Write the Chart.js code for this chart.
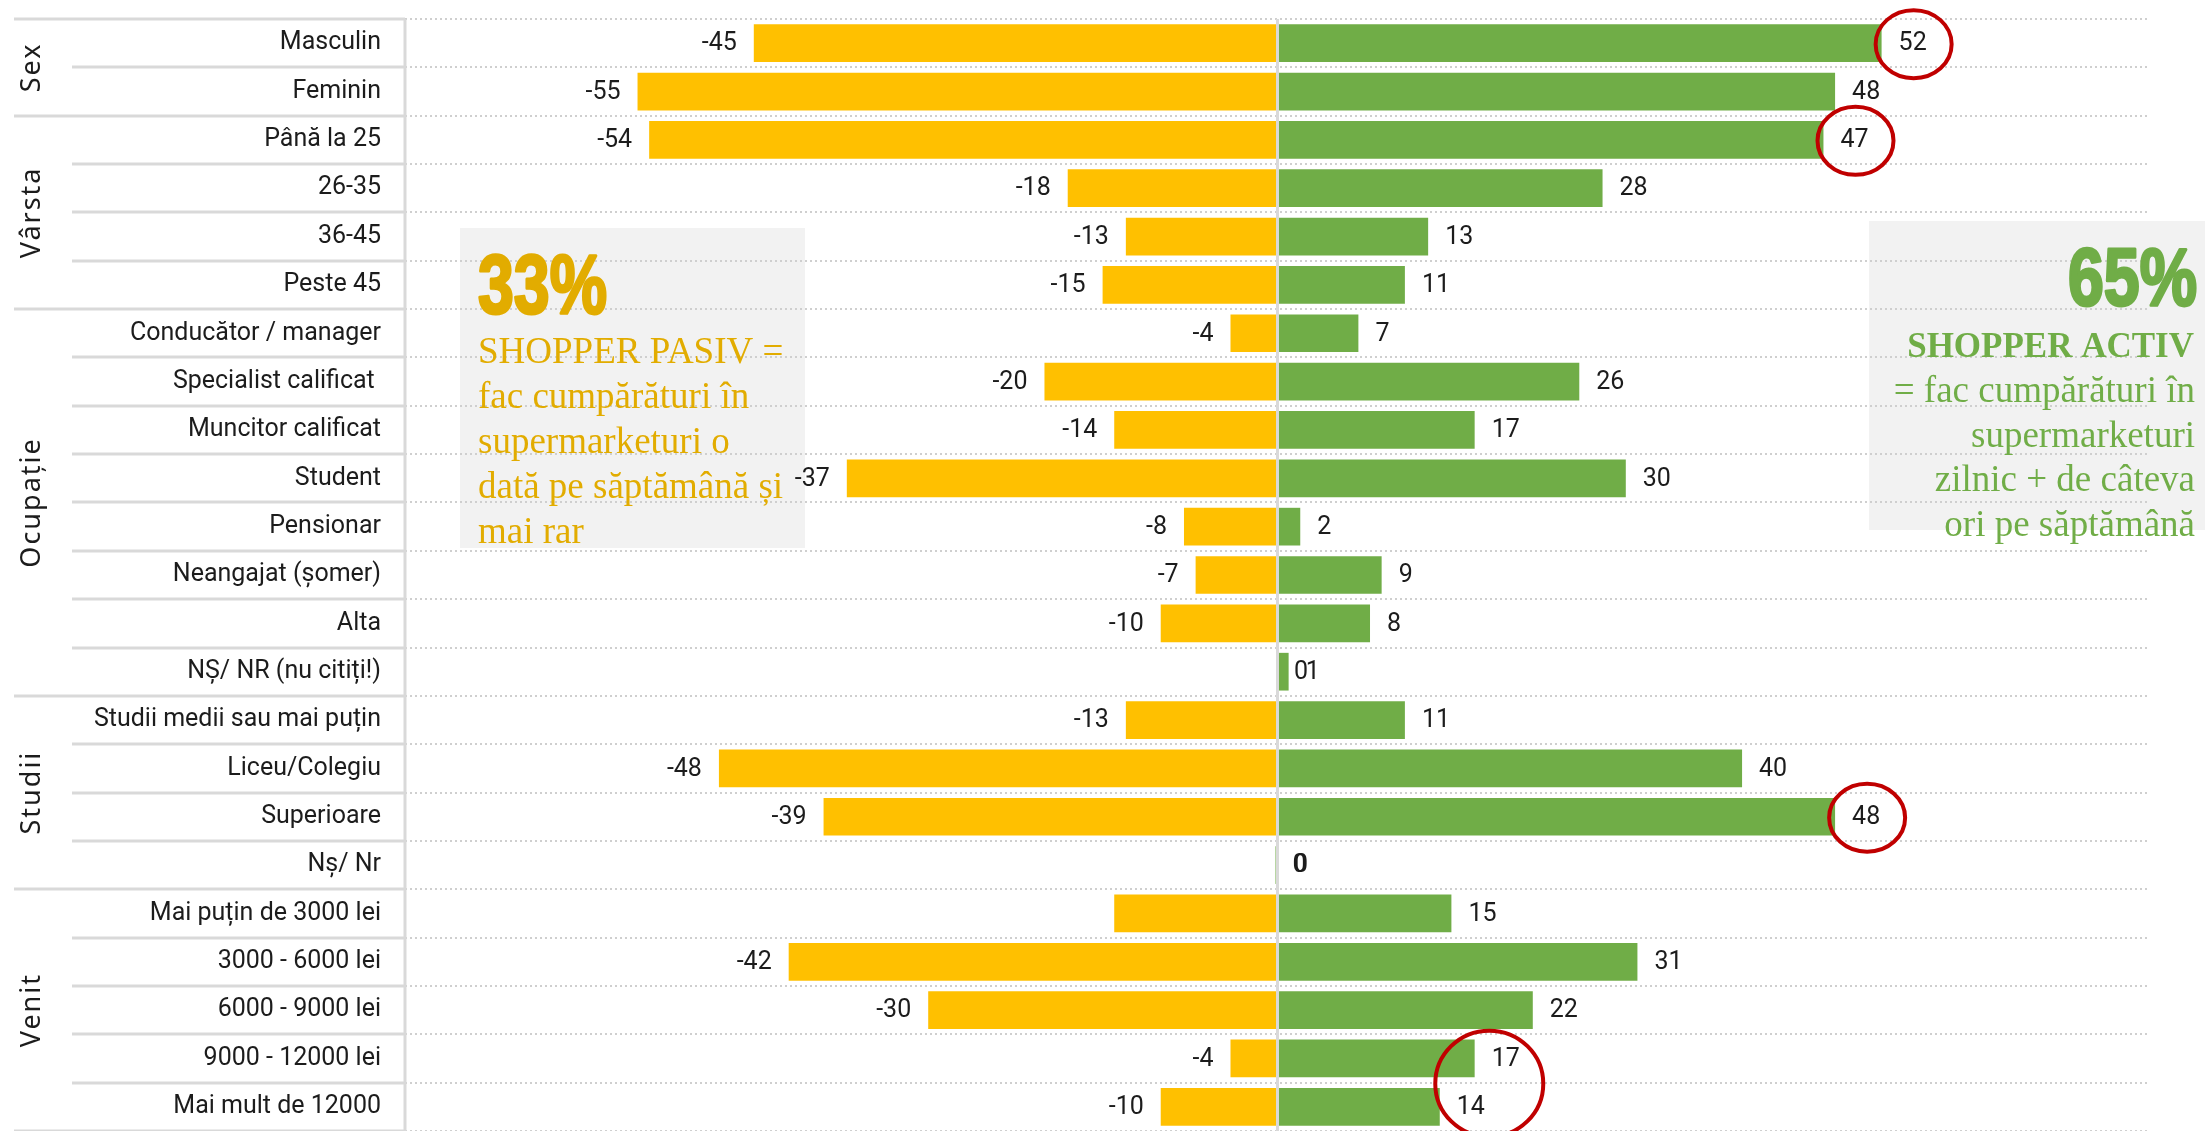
<!DOCTYPE html>
<html lang="ro">
<head>
<meta charset="utf-8">
<title>Shopper activ / pasiv</title>
<script src="https://cdn.jsdelivr.net/npm/chart.js@4.4.1/dist/chart.umd.min.js"></script>
<style>
  html, body { margin: 0; padding: 0; background: #ffffff; }
  #wrap { width: 2205px; height: 1131px; position: relative; overflow: hidden; }
</style>
</head>
<body>
<div id="wrap"><canvas id="c" width="2205" height="1131"></canvas></div>
<script>
// ---- data ----
const categories = [
  'Masculin', 'Feminin',
  'Până la 25', '26-35', '36-45', 'Peste 45',
  'Conducător / manager', 'Specialist calificat ', 'Muncitor calificat', 'Student',
  'Pensionar', 'Neangajat (șomer)', 'Alta', 'NȘ/ NR (nu citiți!)',
  'Studii medii sau mai puțin', 'Liceu/Colegiu', 'Superioare', 'Nș/ Nr',
  'Mai puțin de 3000 lei', '3000 - 6000 lei', '6000 - 9000 lei', '9000 - 12000 lei', 'Mai mult de 12000'
];
const groups = ['Sex', 'Vârsta', 'Ocupație', 'Studii', 'Venit'];
const groupSizes = [2, 4, 8, 4, 5];

// shoppers who buy once a week or less (drawn to the left)
const pasiv = [-45, -55, -54, -18, -13, -15, -4, -20, -14, -37, -8, -7, -10, 0, -13, -48, -39, 0, -14, -42, -30, -4, -10];
// shoppers who buy daily or several times a week (drawn to the right)
const activ = [52, 48, 47, 28, 13, 11, 7, 26, 17, 30, 2, 9, 8, 1, 11, 40, 48, 0, 15, 31, 22, 17, 14];

const pasivUnlabeled = [18];            // rows whose left value is shown without a number
const circled = [[0], [2], [16], [21, 22]]; // right-hand values ringed in red

const pasivShare = '33%';
const pasivText = ['SHOPPER PASIV =', 'fac cumpărături în', 'supermarketuri o', 'dată pe săptămână și', 'mai rar'];
const activShare = '65%';
const activTitle = 'SHOPPER ACTIV';
const activText = ['= fac cumpărături în', 'supermarketuri', 'zilnic + de câteva', 'ori pe săptămână'];

const xMin = -75, xMax = 75;

// ---- styling ----
const SANS = 'Roboto, "Liberation Sans", sans-serif';
const SERIF = '"Liberation Serif", "DejaVu Serif", serif';
const YELLOW = '#FFC000';
const GREEN = '#70AD47';
const GOLD_TEXT = '#E2AC00';
const TEXT = '#1c1c1c';
const RULE = '#d9d9d9';
const LABEL_GAP = 17;
const VALUE_FONT = '25px ' + SANS;

function labelGeom(chart, dsIndex, i) {
  const el = chart.getDatasetMeta(dsIndex).data[i];
  const v = chart.data.datasets[dsIndex].data[i];
  const ctx = chart.ctx;
  ctx.font = VALUE_FONT;
  const text = String(v);
  const w = ctx.measureText(text).width;
  const x = v < 0 ? el.x - LABEL_GAP - w : el.x + LABEL_GAP;
  return { x, y: el.y, w, text };
}

function drawCondensed(ctx, text, x, baseline, align, height, width, color) {
  const size = height / 0.716;
  ctx.save();
  ctx.font = 'bold ' + size + 'px "Liberation Sans", Arial, sans-serif';
  const w0 = ctx.measureText(text).width;
  const sx = width / w0;
  ctx.translate(x, baseline);
  ctx.scale(sx, 1);
  ctx.textAlign = align;
  ctx.textBaseline = 'alphabetic';
  ctx.fillStyle = color;
  ctx.strokeStyle = color;
  ctx.lineWidth = 3;
  ctx.lineJoin = 'round';
  ctx.fillText(text, 0, 0);
  ctx.strokeText(text, 0, 0);
  ctx.restore();
}

const panelPlugin = {
  id: 'panel',
  beforeDraw(chart) {
    const ctx = chart.ctx;
    ctx.save();
    ctx.fillStyle = '#ffffff';
    ctx.fillRect(0, 0, chart.width, chart.height);
    // note boxes behind the grid
    ctx.fillStyle = '#f2f2f2';
    ctx.fillRect(460, 228, 345, 320);
    ctx.fillRect(1869, 221, 336, 309);
    ctx.restore();
  },
  afterDatasetsDraw(chart) {
    const ctx = chart.ctx;
    const area = chart.chartArea;
    const xs = chart.scales.x;
    const ys = chart.scales.y;
    ctx.save();
    // zero line and category axis line
    ctx.strokeStyle = RULE;
    ctx.lineWidth = 3;
    ctx.beginPath();
    const x0 = Math.round(xs.getPixelForValue(0)) + 0.5;
    ctx.moveTo(x0, area.top); ctx.lineTo(x0, area.bottom);
    ctx.moveTo(area.left, area.top); ctx.lineTo(area.left, area.bottom);
    ctx.stroke();

    // row rules in the label column, longer ones between groups
    const groupStarts = [0];
    groupSizes.reduce((acc, n) => { groupStarts.push(acc + n); return acc + n; }, 0);
    ctx.beginPath();
    for (let i = 0; i <= categories.length; i++) {
      const y = Math.round(ys.getPixelForValue(i - 0.5));
      const start = groupStarts.includes(i) ? 14 : 72;
      ctx.moveTo(start, y); ctx.lineTo(area.left, y);
    }
    ctx.stroke();

    // group names, rotated
    ctx.fillStyle = TEXT;
    ctx.font = '27px "Noto Sans", "Open Sans", sans-serif';
    ctx.textAlign = 'center';
    ctx.textBaseline = 'middle';
    if ('letterSpacing' in ctx) ctx.letterSpacing = '2px';
    groups.forEach((g, k) => {
      const a = ys.getPixelForValue(groupStarts[k] - 0.5);
      const b = ys.getPixelForValue(groupStarts[k + 1] - 0.5);
      ctx.save();
      ctx.translate(32, (a + b) / 2);
      ctx.rotate(-Math.PI / 2);
      ctx.fillText(g, 0, 0);
      ctx.restore();
    });
    if ('letterSpacing' in ctx) ctx.letterSpacing = '0px';

    // value labels outside the bar ends
    ctx.font = VALUE_FONT;
    ctx.textAlign = 'left';
    ctx.textBaseline = 'middle';
    ctx.fillStyle = TEXT;
    [0, 1].forEach(ds => {
      chart.data.datasets[ds].data.forEach((v, i) => {
        if (ds === 0 && pasivUnlabeled.includes(i)) return;
        const g = labelGeom(chart, ds, i);
        ctx.fillText(g.text, g.x, g.y + 1);
      });
    });
    ctx.restore();
  },
  afterDraw(chart) {
    const ctx = chart.ctx;
    ctx.save();
    // passive shopper note
    drawCondensed(ctx, pasivShare, 478, 313, 'left', 60, 129, GOLD_TEXT);
    ctx.font = '37px ' + SERIF;
    ctx.fillStyle = GOLD_TEXT;
    ctx.textAlign = 'left';
    ctx.textBaseline = 'alphabetic';
    pasivText.forEach((t, k) => ctx.fillText(t, 478, 363 + k * 45));

    // active shopper note
    drawCondensed(ctx, activShare, 2197, 305, 'right', 58, 129, GREEN);
    ctx.fillStyle = GREEN;
    ctx.textAlign = 'right';
    ctx.font = 'bold 35px ' + SERIF;
    ctx.fillText(activTitle, 2194, 357);
    ctx.font = '37px ' + SERIF;
    activText.forEach((t, k) => ctx.fillText(t, 2195, 402 + k * 44.5));

    // red rings around highlighted values
    ctx.strokeStyle = '#C00000';
    ctx.lineWidth = 4;
    circled.forEach(rows => {
      const geoms = rows.map(i => labelGeom(chart, 1, i));
      const cx = geoms.reduce((s, g) => s + g.x + g.w / 2, 0) / geoms.length;
      const cy = geoms.reduce((s, g) => s + g.y, 0) / geoms.length;
      const rx = rows.length > 1 ? 54 : 38;
      const ry = rows.length > 1 ? 53 : 34;
      ctx.beginPath();
      ctx.ellipse(cx + 1, cy + 1, rx, ry, 0, 0, Math.PI * 2);
      ctx.stroke();
    });
    ctx.restore();
  }
};

new Chart(document.getElementById('c'), {
  type: 'bar',
  data: {
    labels: categories,
    datasets: [
      { label: 'Shopper pasiv', data: pasiv, backgroundColor: YELLOW, borderWidth: 0 },
      { label: 'Shopper activ', data: activ, backgroundColor: GREEN, borderWidth: 0, minBarLength: 3 }
    ]
  },
  options: {
    indexAxis: 'y',
    responsive: false,
    devicePixelRatio: 1,
    animation: false,
    datasets: { bar: { categoryPercentage: 1, barPercentage: 0.78 } },
    layout: { padding: { left: 0, right: 56, top: 19, bottom: 0 } },
    plugins: { legend: { display: false }, tooltip: { enabled: false } },
    scales: {
      x: { type: 'linear', min: xMin, max: xMax, stacked: true, display: false },
      y: {
        type: 'category',
        stacked: true,
        offset: true,
        grid: { display: true, offset: true, color: '#cfcfcf', lineWidth: 2, drawTicks: false },
        border: { display: false, dash: [2, 3] },
        ticks: { autoSkip: false, padding: 24, color: TEXT, font: { family: SANS, size: 25 } },
        afterFit(scale) {
          scale.width = 405;
          scale.paddingTop = 0;
          scale.paddingBottom = 0;
        }
      }
    }
  },
  plugins: [panelPlugin]
});
</script>
</body>
</html>
